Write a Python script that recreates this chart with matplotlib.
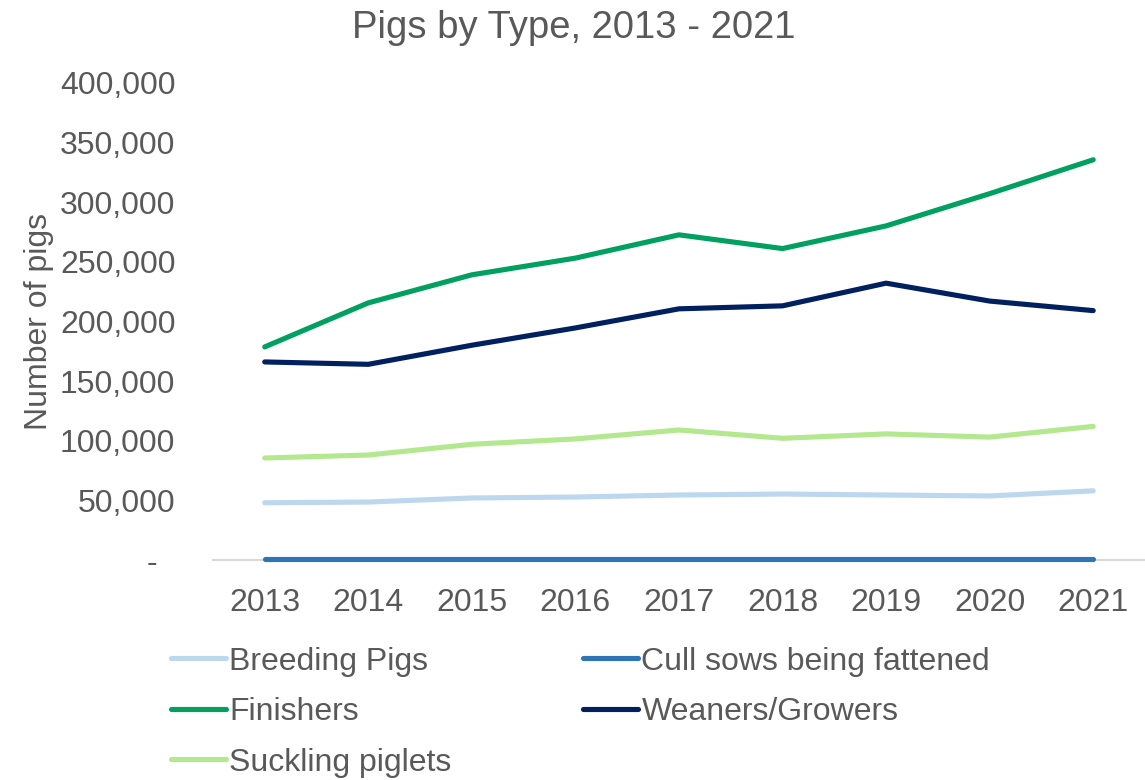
"""Pigs by type, 2013 - 2021."""

import matplotlib

matplotlib.use("Agg")

import matplotlib.pyplot as plt
from matplotlib.ticker import FuncFormatter

years = ["2013", "2014", "2015", "2016", "2017", "2018", "2019", "2020", "2021"]

breeding_pigs = [48000, 48600, 52000, 52800, 54500, 55300, 54500, 53700, 58000]
cull_sows = [500, 500, 500, 500, 500, 500, 500, 500, 500]
finishers = [178600, 215500, 239000, 253000, 272500, 261000, 280000, 307000, 335400]
weaners_growers = [166000, 164000, 180000, 194500, 210500, 213000, 232000, 217000, 209000]
suckling_piglets = [85500, 88000, 97000, 101500, 109000, 102000, 105700, 103000, 112000]

y_ticks = [0, 50000, 100000, 150000, 200000, 250000, 300000, 350000, 400000]

text_color = "#595959"
plt.rcParams["font.family"] = ["Liberation Sans", "DejaVu Sans"]

figure = plt.figure(figsize=(11.45, 7.8), dpi=100)
axis = figure.add_axes([0.186, 0.282, 0.814, 0.612])

positions = range(len(years))

series = [
    ("Breeding Pigs", breeding_pigs, "#BDD7EE"),
    ("Finishers", finishers, "#00A060"),
    ("Suckling piglets", suckling_piglets, "#B3E88F"),
    ("Cull sows being fattened", cull_sows, "#2E75B6"),
    ("Weaners/Growers", weaners_growers, "#002060"),
]

handles = {}
for name, values, color in series:
    (line,) = axis.plot(
        positions,
        values,
        color=color,
        linewidth=3.7,
        solid_capstyle="round",
        solid_joinstyle="round",
        clip_on=False,
        zorder=3,
        label=name,
    )
    handles[name] = line

axis.set_xlim(-0.5, len(years) - 0.5)
axis.set_ylim(0, 400000)
axis.set_xticks(list(positions), labels=years)
axis.set_yticks(y_ticks)
axis.yaxis.set_major_formatter(
    FuncFormatter(lambda value, _: "-  " if value == 0 else f"{value:,.0f}")
)

for side in ["top", "right", "left"]:
    axis.spines[side].set_visible(False)
axis.spines["bottom"].set_color("#D9D9D9")
axis.spines["bottom"].set_linewidth(1.5)

axis.tick_params(axis="x", length=0, pad=20, labelsize=23, labelcolor=text_color)
axis.tick_params(axis="y", length=0, pad=27, labelsize=23, labelcolor=text_color)

axis.set_ylabel("Number of pigs", fontsize=23, color=text_color, labelpad=4)
figure.text(
    0.501,
    0.964,
    "Pigs by Type, 2013 - 2021",
    ha="center",
    va="center",
    fontsize=27.5,
    color=text_color,
)

legend = figure.legend(
    [handles[name] for name, _, _ in series],
    [name for name, _, _ in series],
    ncol=2,
    loc="upper left",
    bbox_to_anchor=(0.149, 0.171),
    frameon=False,
    fontsize=23,
    handlelength=1.72,
    handletextpad=0.12,
    columnspacing=4.1,
    labelspacing=0.64,
    borderpad=0,
    borderaxespad=0,
)
for text in legend.get_texts():
    text.set_color(text_color)

figure.savefig("out.png", dpi=100)
plt.close(figure)
